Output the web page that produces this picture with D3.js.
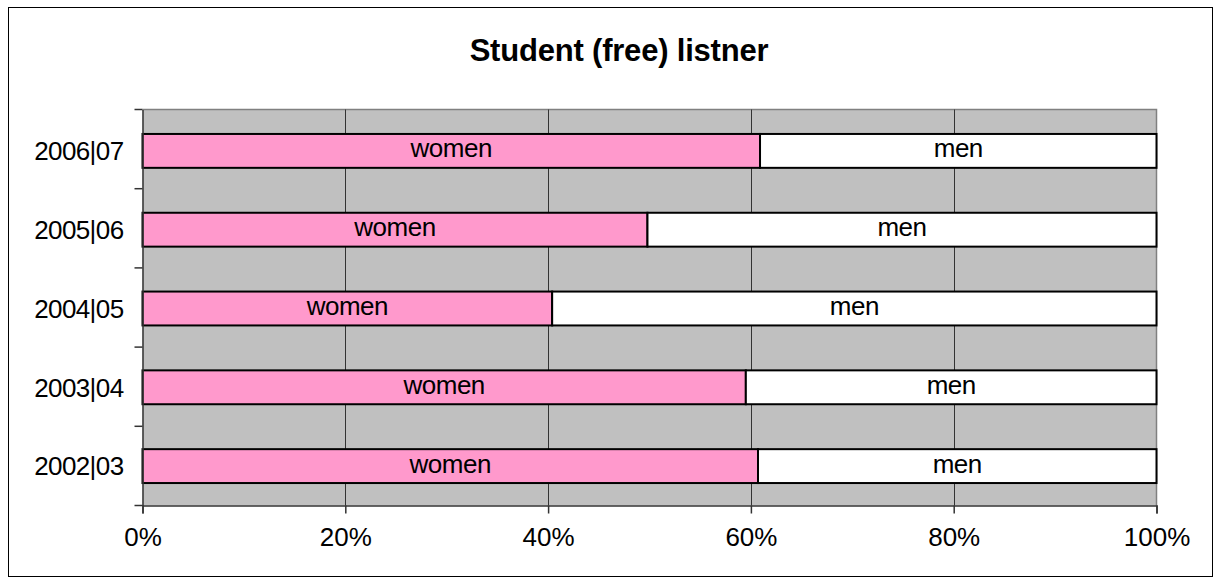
<!DOCTYPE html>
<html>
<head>
<meta charset="utf-8">
<script src="https://cdn.jsdelivr.net/npm/d3@7/dist/d3.min.js"></script>
<style>
  html, body { margin: 0; padding: 0; background: #fff; }
  svg { display: block; font-family: Arial, "Liberation Sans", sans-serif; }
</style>
</head>
<body>
<svg id="chart" width="1221" height="585"></svg>
<script>
// ---- Data ----
const title = "Student (free) listner";
const categories = ["2006|07", "2005|06", "2004|05", "2003|04", "2002|03"];
const women = [60.9, 49.8, 40.4, 59.5, 60.7];
const men = [39.1, 50.2, 59.6, 40.5, 39.3];
const seriesNames = ["women", "men"];
const seriesColors = ["#FF99CC", "#FFFFFF"];
const xTicks = [0, 20, 40, 60, 80, 100];

// ---- Layout ----
const W = 1221, H = 585;
const plot = { left: 142.5, right: 1156.5, top: 109.5, bottom: 505.5 };

const svg = d3.select("#chart");

// outer border
svg.append("rect")
  .attr("x", 8.5).attr("y", 7.5)
  .attr("width", 1204).attr("height", 569)
  .attr("fill", "#fff").attr("stroke", "#000").attr("stroke-width", 1);

// title
svg.append("text")
  .attr("x", 619).attr("y", 61)
  .attr("text-anchor", "middle")
  .attr("font-size", 31).attr("font-weight", "bold")
  .attr("letter-spacing", -0.2)
  .attr("fill", "#000")
  .text(title);

const x = d3.scaleLinear().domain([0, 100]).range([plot.left, plot.right]);
const yAxisScale = d3.scaleBand().domain(categories).range([plot.top, plot.bottom]);
const y = d3.scaleBand().domain(categories).range([plot.top + 2, plot.bottom]).paddingInner(0.57).paddingOuter(0.285);

// plot background
svg.append("rect")
  .attr("x", plot.left).attr("y", plot.top)
  .attr("width", plot.right - plot.left).attr("height", plot.bottom - plot.top)
  .attr("fill", "#C0C0C0");

// plot border top/right gray
svg.append("path")
  .attr("d", `M${plot.left},${plot.top}H${plot.right}V${plot.bottom}`)
  .attr("fill", "none").attr("stroke", "#808080").attr("stroke-width", 1.5);

// gridlines
svg.append("g").selectAll("line")
  .data(xTicks.filter(t => t > 0 && t < 100))
  .join("line")
  .attr("x1", d => Math.round(x(d)) + 0.5).attr("x2", d => Math.round(x(d)) + 0.5)
  .attr("y1", plot.top).attr("y2", plot.bottom)
  .attr("stroke", "#333").attr("stroke-width", 1);

// stacked bars
const rows = categories.map((c, i) => ({ cat: c, women: women[i], men: men[i] }));
const stack = d3.stack().keys(seriesNames)(rows);

const gBars = svg.append("g");
stack.forEach((layer, si) => {
  const g = gBars.append("g");
  g.selectAll("rect")
    .data(layer)
    .join("rect")
    .attr("x", d => x(d[0]))
    .attr("y", d => y(d.data.cat))
    .attr("width", d => x(d[1]) - x(d[0]))
    .attr("height", y.bandwidth())
    .attr("fill", seriesColors[si])
    .attr("stroke", "#000").attr("stroke-width", 2);
});
// labels
stack.forEach((layer, si) => {
  gBars.append("g").selectAll("text")
    .data(layer)
    .join("text")
    .attr("x", d => (x(d[0]) + x(d[1])) / 2)
    .attr("y", d => y(d.data.cat) + y.bandwidth() / 2)
    .attr("dy", "0.25em")
    .attr("text-anchor", "middle")
    .attr("font-size", 26)
    .attr("letter-spacing", -0.5)
    .attr("fill", "#000")
    .text(seriesNames[si]);
});

// y axis
const yAxis = d3.axisLeft(yAxisScale).tickSize(0).tickPadding(19);
const gy = svg.append("g").attr("transform", `translate(${plot.left},0)`).call(yAxis);
gy.select(".domain").attr("stroke", "#333").attr("stroke-width", 1.5);
gy.selectAll("text").attr("font-size", 26).attr("letter-spacing", -0.6)
  .attr("font-family", "Arial, 'Liberation Sans', sans-serif").attr("fill", "#000").attr("dy", "0.36em")
  .attr("y", d => y(d) + y.bandwidth() / 2 - yAxisScale(d) - yAxisScale.bandwidth() / 2);
// category boundary ticks
svg.append("g").selectAll("line")
  .data(categories.map(c => yAxisScale(c)).concat([plot.bottom]))
  .join("line")
  .attr("x1", plot.left - 8).attr("x2", plot.left)
  .attr("y1", d => d).attr("y2", d => d)
  .attr("stroke", "#333").attr("stroke-width", 1.5);

// x axis
const xAxis = d3.axisBottom(x).tickValues(xTicks).tickFormat(d => d + "%").tickSize(8).tickPadding(14);
const gx = svg.append("g").attr("transform", `translate(0,${plot.bottom})`).call(xAxis);
gx.select(".domain").attr("stroke", "#333").attr("stroke-width", 1.5);
gx.selectAll(".tick line").attr("stroke", "#333").attr("stroke-width", 1.5);
gx.selectAll("text").attr("font-size", 26)
  .attr("font-family", "Arial, 'Liberation Sans', sans-serif").attr("fill", "#000");
</script>
</body>
</html>
